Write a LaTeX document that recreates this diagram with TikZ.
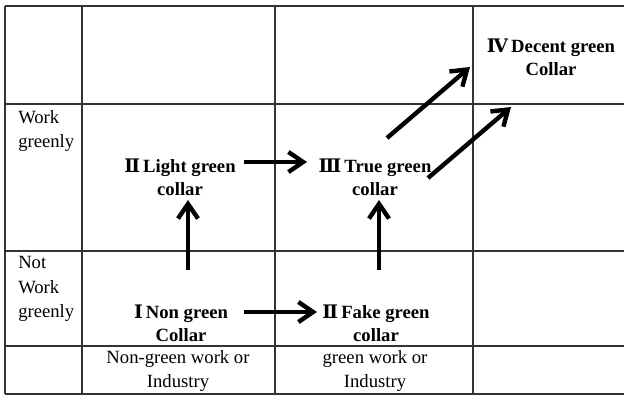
\documentclass[tikz,border=0pt]{standalone}
\usepackage{fontspec}
\setmainfont{Liberation Serif}
\newfontfamily\numfont{DejaVu Serif}
\newcommand{\rn}[1]{{\numfont\fontsize{14}{17.5}\selectfont #1}}
\usetikzlibrary{arrows.meta}
\begin{document}
\begin{tikzpicture}[x=0.75pt,y=-0.75pt,
  gridline/.style={line width=1.1pt, draw=black!80},
  lbl/.style={font=\fontsize{14}{18.5}\selectfont, align=left, inner sep=0pt, anchor=west},
  cat/.style={font=\bfseries\fontsize{14}{17.5}\selectfont, align=center, inner sep=0pt},
  ax/.style={font=\fontsize{14}{17.5}\selectfont, align=center, inner sep=0pt},
  arr/.style={line width=3.3pt, -{Straight Barb[length=11pt,width=15pt]}}]
\useasboundingbox (0,0) rectangle (624,397);
% grid
\foreach \y in {6,104,251,346,394} \draw[gridline] (5,\y) -- (624,\y);
\foreach \x in {5,82,275,473} \draw[gridline] (\x,6) -- (\x,394);
% row labels
\node[lbl] (wg) at (18,131) {Work\\greenly};
\node[lbl] (nwg) at (18,289) {Not\\Work\\greenly};
% categories
\node[cat] (light) at (180,177) {\rn{Ⅱ}\,Light green\\collar};
\node[cat] (true) at (375,177) {\rn{Ⅲ}\,True green\\collar};
\node[cat] (decent) at (551,57) {\rn{Ⅳ}\,Decent green\\Collar};
\node[cat] (non) at (181,323) {\rn{Ⅰ}\,Non green\\Collar};
\node[cat] (fake) at (376,323) {\rn{Ⅱ}\,Fake green\\collar};
% column labels
\node[ax] (ngw) at (178,371) {Non-green work or\\Industry};
\node[ax] (gw) at (375,371) {green work or\\Industry};
% arrow end points
\coordinate (a1s) at (244,162); \coordinate (a1e) at (307,162);
\coordinate (a2s) at (244,312); \coordinate (a2e) at (317,312);
\coordinate (a3s) at (188,270); \coordinate (a3e) at (188,200);
\coordinate (a4s) at (379,270); \coordinate (a4e) at (379,200);
\coordinate (a5s) at (387,138); \coordinate (a5e) at (470,67);
\coordinate (a6s) at (428,178); \coordinate (a6e) at (511,107);
\draw[arr] (a1s) -- (a1e);
\draw[arr] (a2s) -- (a2e);
\draw[arr] (a3s) -- (a3e);
\draw[arr] (a4s) -- (a4e);
\draw[arr] (a5s) -- (a5e);
\draw[arr] (a6s) -- (a6e);
\end{tikzpicture}
\end{document}
